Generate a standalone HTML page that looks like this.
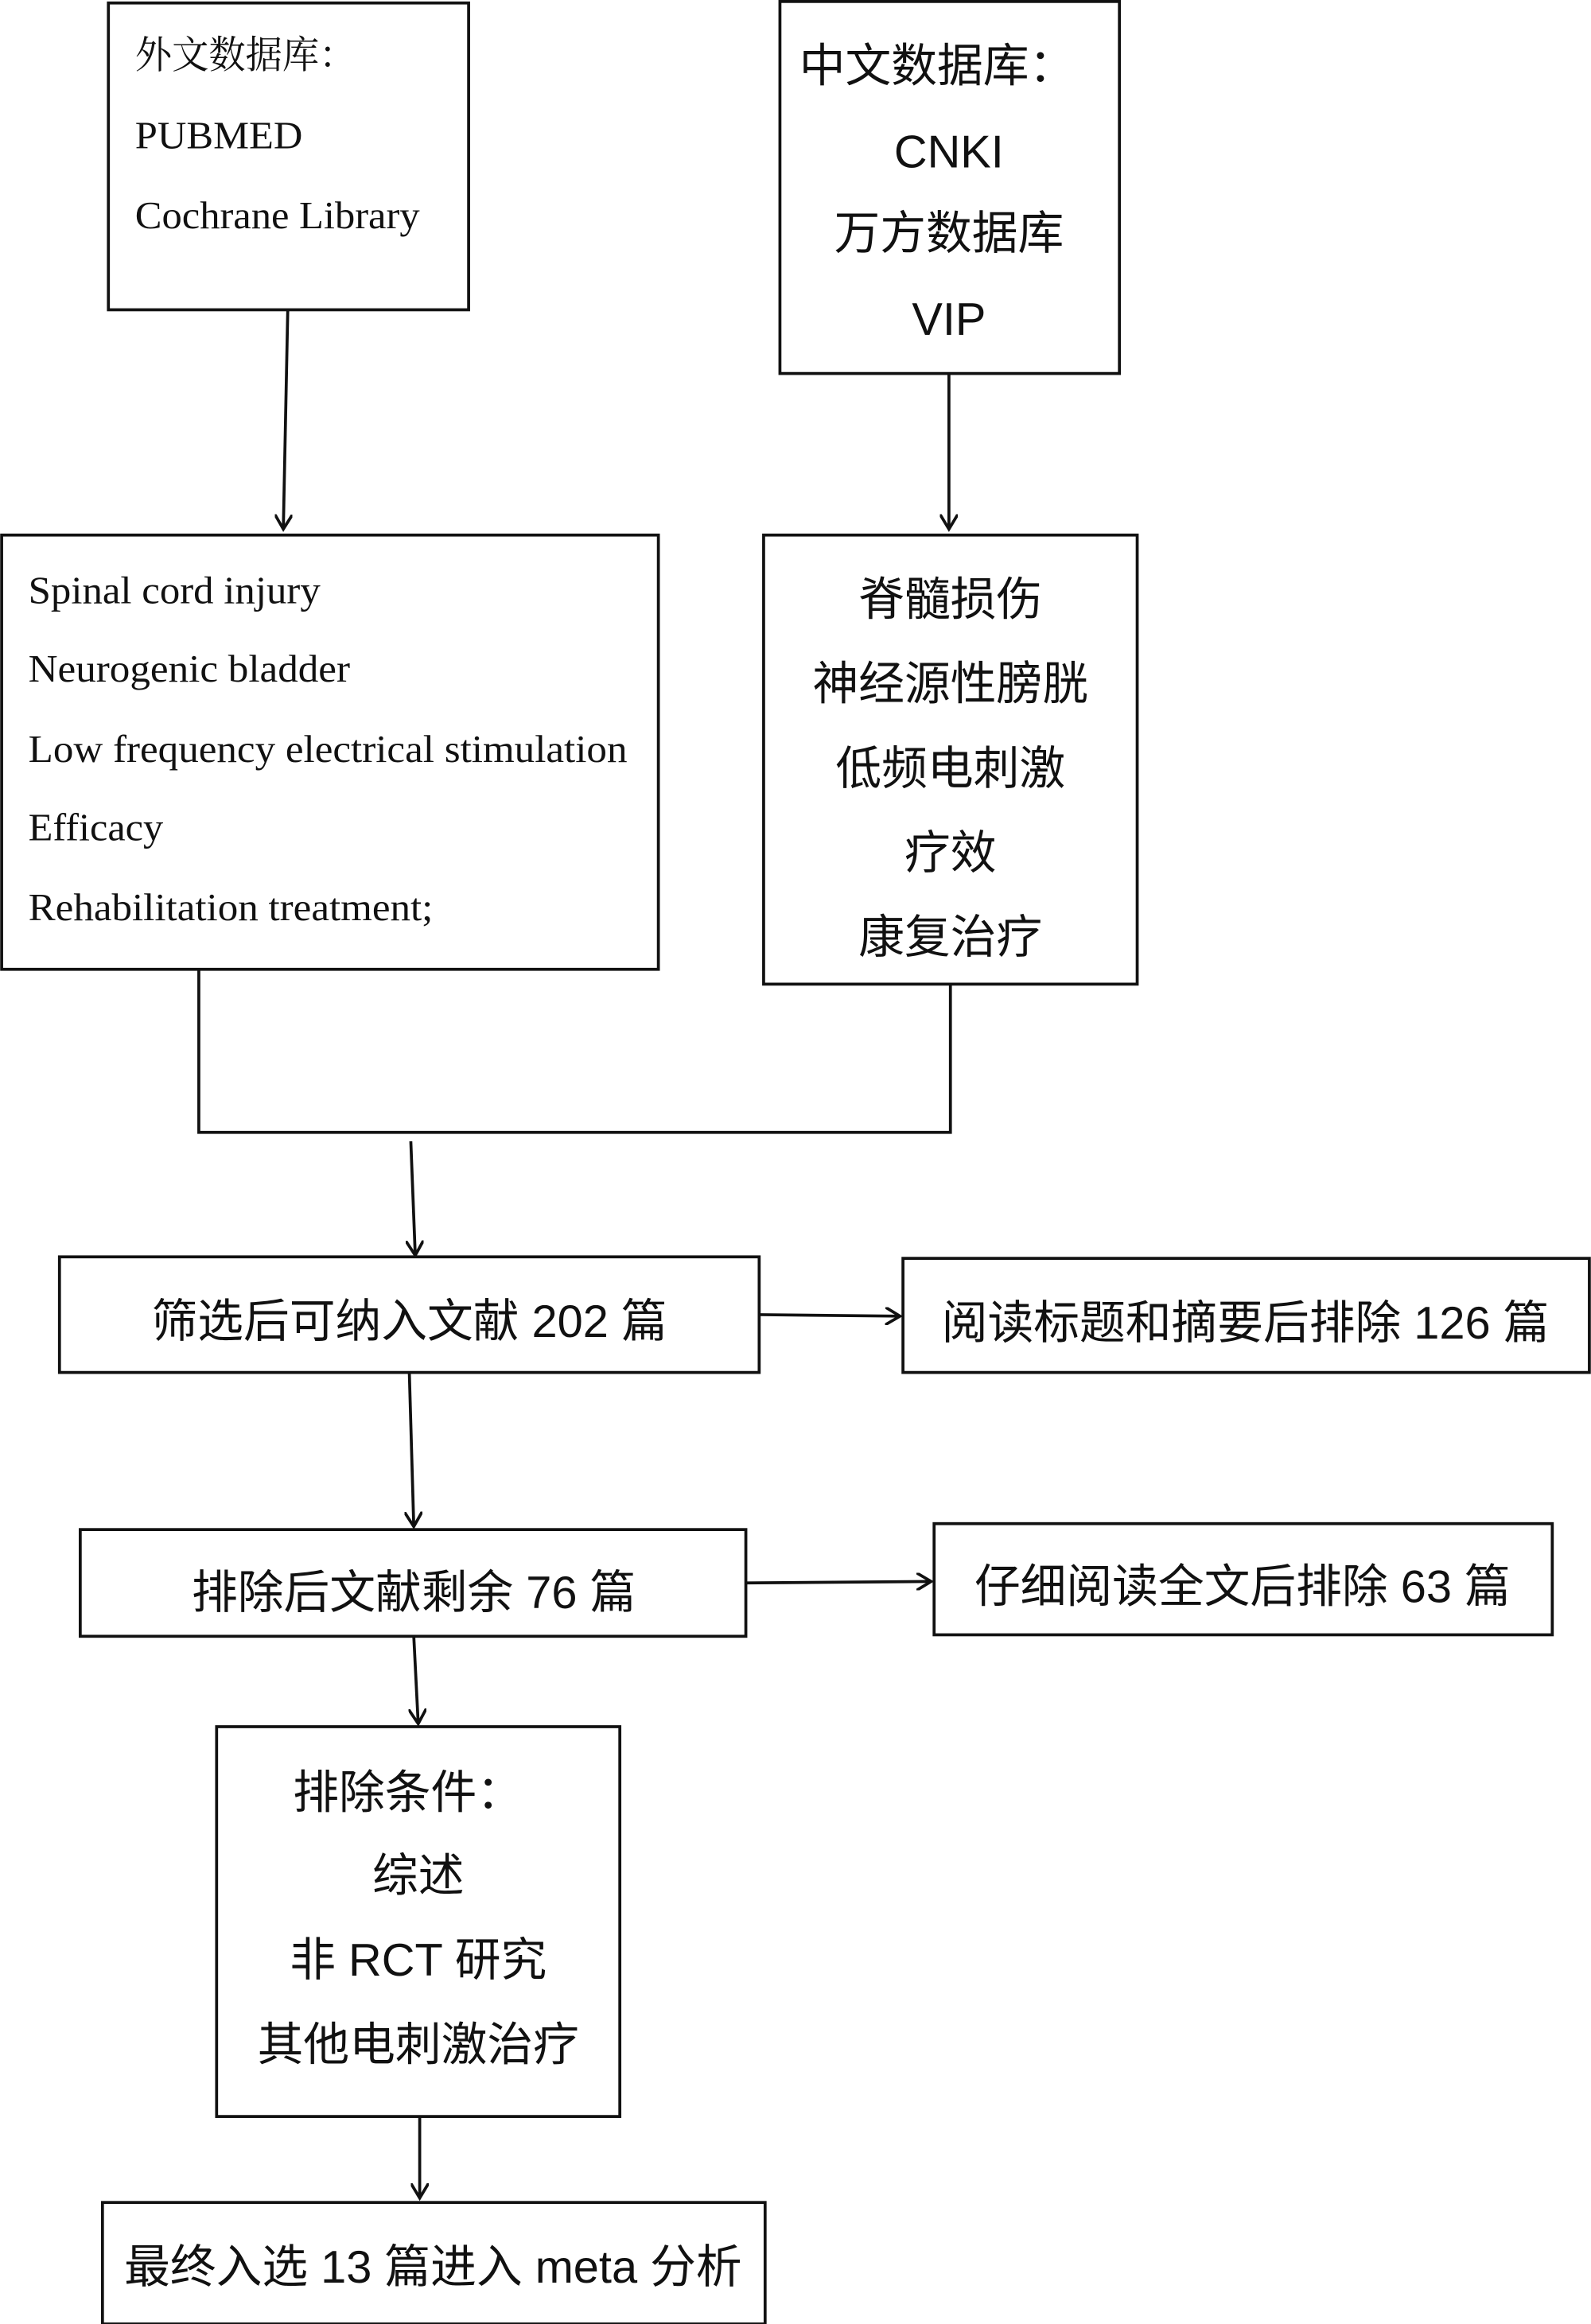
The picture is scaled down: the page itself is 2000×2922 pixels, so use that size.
<!DOCTYPE html>
<html><head><meta charset="utf-8"><style>
html,body{margin:0;padding:0;background:#fff;}
svg{display:block;}
.s{font-family:"Liberation Serif","Noto Serif CJK SC",serif;font-size:26px;fill:#111;}
.c{font-family:"Liberation Sans","Noto Sans CJK SC",sans-serif;font-size:31px;fill:#111;}
</style></head><body>
<svg width="2000" height="2922" viewBox="0 0 1073 1568" xmlns="http://www.w3.org/2000/svg">
<defs><marker id="a" markerWidth="12" markerHeight="12" refX="10" refY="6" orient="auto" markerUnits="userSpaceOnUse"><path d="M0,0 L10,6 L0,12" fill="none" stroke="#111" stroke-width="2"/></marker></defs>
<g fill="none" stroke="#111" stroke-width="2">
<rect x="73" y="2" width="243" height="207"/>
<rect x="526" y="1" width="229" height="251"/>
<rect x="1" y="361" width="443" height="293"/>
<rect x="515" y="361" width="252" height="303"/>
<rect x="40" y="848" width="472" height="78"/>
<rect x="609" y="849" width="463" height="77"/>
<rect x="54" y="1032" width="449" height="72"/>
<rect x="630" y="1028" width="417" height="75"/>
<rect x="146" y="1165" width="272" height="263"/>
<rect x="69" y="1486" width="447" height="82"/>
<polyline points="134,654 134,764 641,764 641,664"/>
<line x1="194" y1="209" x2="191" y2="357" marker-end="url(#a)"/>
<line x1="640" y1="252" x2="640" y2="357" marker-end="url(#a)"/>
<line x1="277" y1="770" x2="280" y2="847" marker-end="url(#a)"/>
<line x1="512" y1="887" x2="607" y2="888" marker-end="url(#a)"/>
<line x1="276" y1="926" x2="279" y2="1030" marker-end="url(#a)"/>
<line x1="503" y1="1068" x2="628" y2="1067" marker-end="url(#a)"/>
<line x1="279" y1="1104" x2="282" y2="1163" marker-end="url(#a)"/>
<line x1="283" y1="1428" x2="283" y2="1483" marker-end="url(#a)"/>
</g>
<text class="s" x="91" y="46" textLength="149" lengthAdjust="spacingAndGlyphs">外文数据库：</text>
<text class="s" x="91" y="100" textLength="113" lengthAdjust="spacingAndGlyphs">PUBMED</text>
<text class="s" x="91" y="154" textLength="192" lengthAdjust="spacingAndGlyphs">Cochrane Library</text>
<g class="c" text-anchor="middle">
<text x="632" y="55">中文数据库：</text>
<text x="640" y="113">CNKI</text>
<text x="640" y="168">万方数据库</text>
<text x="640" y="226">VIP</text>
<text x="641" y="415">脊髓损伤</text>
<text x="641" y="472">神经源性膀胱</text>
<text x="641" y="529">低频电刺激</text>
<text x="641" y="586">疗效</text>
<text x="641" y="643">康复治疗</text>
<text x="276" y="902">筛选后可纳入文献 202 篇</text>
<text x="840" y="903">阅读标题和摘要后排除 126 篇</text>
<text x="279" y="1085">排除后文献剩余 76 篇</text>
<text x="838" y="1081">仔细阅读全文后排除 63 篇</text>
<text x="275" y="1220">排除条件：</text>
<text x="282" y="1276">综述</text>
<text x="282" y="1333">非 RCT 研究</text>
<text x="282" y="1390">其他电刺激治疗</text>
<text x="292" y="1540">最终入选 13 篇进入 meta 分析</text>
</g>
<text class="s" x="19" y="407" textLength="197" lengthAdjust="spacingAndGlyphs">Spinal cord injury</text>
<text class="s" x="19" y="460" textLength="217" lengthAdjust="spacingAndGlyphs">Neurogenic bladder</text>
<text class="s" x="19" y="514" textLength="404" lengthAdjust="spacingAndGlyphs">Low frequency electrical stimulation</text>
<text class="s" x="19" y="567" textLength="91" lengthAdjust="spacingAndGlyphs">Efficacy</text>
<text class="s" x="19" y="621" textLength="273" lengthAdjust="spacingAndGlyphs">Rehabilitation treatment;</text>
</svg>
</body></html>
